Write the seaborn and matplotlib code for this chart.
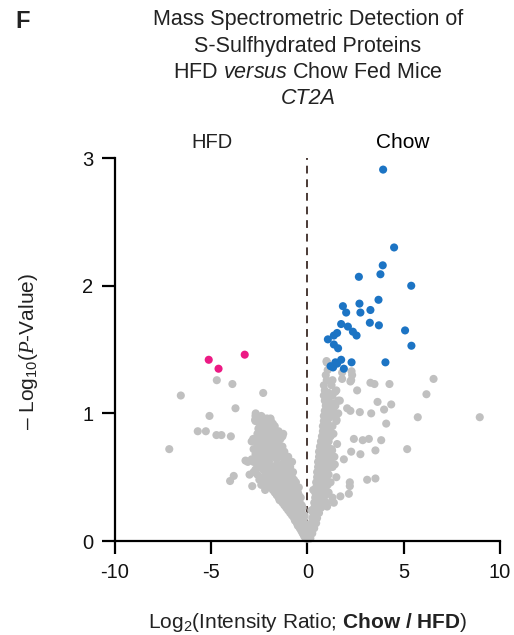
import matplotlib
matplotlib.use("Agg")
import matplotlib.pyplot as plt
import seaborn as sns
import pandas as pd

# ---------------- data ----------------
# significantly higher in Chow (blue)
up_x = [3.93, 4.50, 3.91, 3.79, 2.67, 5.39, 3.69, 1.84, 2.70, 2.01, 2.75, 3.27,
        1.75, 2.10, 3.24, 3.71, 2.36, 2.55, 1.54, 1.37, 1.06, 5.07, 5.40, 1.37,
        1.59, 4.05, 2.29, 1.75, 1.54, 1.33, 1.89, 1.20, 1.45]
up_y = [2.91, 2.30, 2.16, 2.09, 2.07, 2.00, 1.89, 1.84, 1.86, 1.79, 1.79, 1.81,
        1.70, 1.68, 1.71, 1.69, 1.64, 1.61, 1.63, 1.61, 1.58, 1.65, 1.53, 1.54,
        1.51, 1.40, 1.40, 1.42, 1.39, 1.36, 1.35, 1.37, 1.40]

# significantly higher in HFD (pink)
down_x = [-5.13, -4.62, -3.26]
down_y = [1.42, 1.35, 1.46]

# not significant (grey), scattered points
ns_sparse_x = [
    -4.71, -3.90, -6.58, -2.30, -3.74, -5.09, -5.70, -5.28, -4.73, -4.47, -3.98,
    -7.18, -2.82, -3.83, -4.02, -2.87, -3.01, -3.22, -2.69, -2.72, -2.35, -1.92,
    -1.75, -1.26,
    6.55, 6.18, 8.95, 5.73, 4.26, 3.27, 3.48, 3.64, 4.35, 3.98, 4.09, 3.31, 2.72,
    2.23, 2.06, 2.41, 2.87, 3.19, 3.83, 3.53, 5.18, 2.75, 2.27, 3.10, 3.53, 2.20,
    2.20, 1.71, 1.42, 1.28, 1.89, 2.32, 2.23, 2.58, 1.80, 1.02, 1.45, 1.37, 1.68,
    1.51, 1.54, 0.99, 1.80, 2.29, 2.27, 2.15, 1.37, 1.02,
]
ns_sparse_y = [
    1.26, 1.23, 1.14, 1.16, 1.04, 0.98, 0.86, 0.86, 0.83, 0.83, 0.82,
    0.72, 0.80, 0.51, 0.47, 0.43, 0.52, 0.63, 1.00, 0.95, 0.97, 0.96,
    0.86, 0.84,
    1.27, 1.15, 0.97, 0.97, 1.23, 1.24, 1.23, 1.09, 1.07, 1.03, 0.92, 1.00, 1.01,
    1.02, 1.04, 0.80, 0.79, 0.80, 0.79, 0.71, 0.72, 0.68, 0.70, 0.48, 0.49, 0.46,
    0.43, 0.35, 0.60, 0.71, 0.64, 1.30, 1.25, 1.18, 1.27, 1.40, 1.17, 1.08, 1.10,
    0.95, 0.76, 1.41, 1.32, 1.33, 1.26, 0.37, 0.30, 0.27,
]

# not significant (grey), dense left arm of the volcano
ns_left_x = [
    -0.10, 0.00, -0.18, -0.25, -0.10, -0.32, -0.40, -0.20, -0.50, -0.10,
    -0.55, -0.30, -0.15, -0.65, -0.35, -0.70, -0.45, -0.20, -0.80, -0.50, -0.15,
    -0.90, -0.60, -0.30, -1.00, -0.70, -0.40, -1.10, -0.80, -0.50, -0.25,
    -1.20, -0.90, -0.60, -0.30, -1.30, -1.00, -0.70, -0.40,
    -1.45, -1.15, -0.85, -0.55, -1.50, -1.20, -0.90, -0.60, -0.35,
    -1.60, -1.30, -1.00, -0.70, -0.45, -1.70, -1.40, -1.10, -0.80, -0.50,
    -2.20, -1.80, -1.50, -1.20, -0.90, -0.60, -1.90, -1.60, -1.30, -1.00, -0.70, -0.45,
    -2.40, -2.00, -1.70, -1.40, -1.10, -0.80, -2.10, -1.80, -1.50, -1.20, -0.90, -0.60,
    -2.50, -2.20, -1.90, -1.60, -1.30, -1.00, -0.70, -2.30, -2.00, -1.70, -1.40, -1.10, -0.80,
    -2.60, -2.10, -1.80, -1.50, -1.20, -0.90, -2.80, -2.20, -1.90, -1.60, -1.30, -1.00, -0.75,
    -2.70, -2.30, -2.00, -1.40, -1.05, -2.50, -2.10, -1.80, -1.20, -0.90,
    -2.60, -2.20, -1.60, -1.30, -0.95, -3.10, -2.80, -2.40, -2.00, -1.10, -0.80,
    -2.90, -2.45, -2.10, -1.60, -1.20, -2.60, -2.30, -1.80, -1.40, -1.00,
    -2.70, -2.40, -2.00, -1.70, -1.30, -2.60, -2.20, -1.90, -1.60, -1.20,
    -2.80, -2.30, -1.80, -1.45, -2.40, -2.00, -1.70, -1.30,
    -2.60, -2.20, -1.90, -1.60, -2.90, -2.50, -2.10, -1.80, -1.50,
    -2.70, -2.40, -1.70, -1.40, -2.30, -2.00, -1.60, -1.30,
    -2.60, -2.40, -2.00, -1.65, -2.20, -1.80, -1.50,
    -2.55, -2.10, -1.90, -2.40, -2.00, -1.70,
    -2.50, -2.10, -1.80, -2.70, -2.30, -1.90,
    -2.55, -2.10, -2.70, -2.40,
]
ns_left_y = [
    0.02, 0.02, 0.04, 0.06, 0.06, 0.08, 0.10, 0.10, 0.12, 0.12,
    0.14, 0.14, 0.14, 0.16, 0.16, 0.18, 0.18, 0.18, 0.20, 0.20, 0.20,
    0.22, 0.22, 0.22, 0.24, 0.24, 0.24, 0.26, 0.26, 0.26, 0.26,
    0.28, 0.28, 0.28, 0.28, 0.30, 0.30, 0.30, 0.30,
    0.32, 0.32, 0.32, 0.32, 0.34, 0.34, 0.34, 0.34, 0.34,
    0.36, 0.36, 0.36, 0.36, 0.36, 0.38, 0.38, 0.38, 0.38, 0.38,
    0.40, 0.40, 0.40, 0.40, 0.40, 0.40, 0.42, 0.42, 0.42, 0.42, 0.42, 0.42,
    0.44, 0.44, 0.44, 0.44, 0.44, 0.44, 0.46, 0.46, 0.46, 0.46, 0.46, 0.46,
    0.48, 0.48, 0.48, 0.48, 0.48, 0.48, 0.48, 0.50, 0.50, 0.50, 0.50, 0.50, 0.50,
    0.52, 0.52, 0.52, 0.52, 0.52, 0.52, 0.54, 0.54, 0.54, 0.54, 0.54, 0.54, 0.54,
    0.56, 0.56, 0.56, 0.56, 0.56, 0.58, 0.58, 0.58, 0.58, 0.58,
    0.60, 0.60, 0.60, 0.60, 0.60, 0.62, 0.62, 0.62, 0.62, 0.62, 0.62,
    0.64, 0.64, 0.64, 0.64, 0.64, 0.66, 0.66, 0.66, 0.66, 0.66,
    0.68, 0.68, 0.68, 0.68, 0.68, 0.70, 0.70, 0.70, 0.70, 0.70,
    0.72, 0.72, 0.72, 0.72, 0.74, 0.74, 0.74, 0.74,
    0.76, 0.76, 0.76, 0.76, 0.78, 0.78, 0.78, 0.78, 0.78,
    0.80, 0.80, 0.80, 0.80, 0.82, 0.82, 0.82, 0.82,
    0.84, 0.84, 0.84, 0.84, 0.86, 0.86, 0.86,
    0.88, 0.88, 0.88, 0.90, 0.90, 0.90,
    0.92, 0.92, 0.92, 0.94, 0.94, 0.94,
    0.96, 0.96, 0.98, 0.98,
]

# not significant (grey), dense right arm of the volcano
ns_right_x = [
    0.05, 0.15, 0.10, 0.10, 0.25, 0.18, 0.15, 0.35, 0.25, 0.20, 0.45, 0.35,
    0.25, 0.50, 0.40, 0.30, 0.60, 0.20, 0.50, 0.35, 0.70, 0.50, 0.85,
    0.35, 0.65, 1.00, 0.55, 0.85, 0.40, 0.75, 1.30, 0.60, 0.95,
    0.40, 0.80, 1.10, 0.30, 0.60, 0.95, 0.45, 0.85, 0.65, 1.05,
    0.45, 0.80, 1.20, 0.65, 1.00, 0.50, 0.90, 1.50, 0.70, 1.10,
    0.50, 0.85, 0.70, 1.05, 0.55, 0.90, 1.30, 0.75, 1.15, 0.55, 0.95,
    0.80, 1.20, 0.60, 1.00, 1.40, 0.80, 1.20, 0.60, 1.00, 0.85, 1.25,
    0.65, 1.05, 0.90, 0.70, 1.10, 0.95, 0.75, 1.20, 1.00, 1.35,
    0.80, 1.10, 1.00, 0.80, 1.30, 1.05, 0.85, 1.50, 1.10, 0.85, 1.25,
    1.10, 1.60, 0.90, 1.35, 1.20, 0.95, 1.45, 1.20, 0.90, 1.60,
    1.10, 0.85, 1.30, 1.10, 0.90, 1.50, 0.85, 1.25, 1.00, 1.30,
    0.95, 1.05, 1.00,
]
ns_right_y = [
    0.02, 0.02, 0.04, 0.06, 0.06, 0.08, 0.10, 0.10, 0.12, 0.14, 0.14, 0.16,
    0.18, 0.18, 0.20, 0.22, 0.22, 0.24, 0.24, 0.26, 0.26, 0.28, 0.28,
    0.30, 0.30, 0.30, 0.32, 0.32, 0.34, 0.34, 0.34, 0.36, 0.36,
    0.38, 0.38, 0.38, 0.40, 0.40, 0.40, 0.42, 0.42, 0.44, 0.44,
    0.46, 0.46, 0.46, 0.48, 0.48, 0.50, 0.50, 0.50, 0.52, 0.52,
    0.54, 0.54, 0.56, 0.56, 0.58, 0.58, 0.58, 0.60, 0.60, 0.62, 0.62,
    0.64, 0.64, 0.66, 0.66, 0.66, 0.68, 0.68, 0.70, 0.70, 0.72, 0.72,
    0.74, 0.74, 0.76, 0.78, 0.78, 0.80, 0.82, 0.82, 0.84, 0.84,
    0.86, 0.86, 0.88, 0.90, 0.90, 0.92, 0.94, 0.94, 0.96, 0.98, 0.98,
    1.00, 1.00, 1.02, 1.02, 1.04, 1.06, 1.06, 1.08, 1.10, 1.10,
    1.12, 1.14, 1.14, 1.16, 1.18, 1.18, 1.22, 1.22, 1.26, 1.26,
    1.30, 1.34, 1.40,
]

x_ticks = [-10, -5, 0, 5, 10]
y_ticks = [0, 1, 2, 3]

# ---------------- build frame ----------------
df = pd.concat([
    pd.DataFrame({"x": ns_sparse_x, "y": ns_sparse_y, "grp": "ns"}),
    pd.DataFrame({"x": ns_left_x, "y": ns_left_y, "grp": "ns"}),
    pd.DataFrame({"x": ns_right_x, "y": ns_right_y, "grp": "ns"}),
    pd.DataFrame({"x": down_x, "y": down_y, "grp": "hfd"}),
    pd.DataFrame({"x": up_x, "y": up_y, "grp": "chow"}),
], ignore_index=True)

sns.set_theme(style="ticks")
plt.rcParams["font.family"] = ["Liberation Sans", "DejaVu Sans"]
plt.rcParams["axes.unicode_minus"] = False
plt.rcParams["mathtext.fontset"] = "custom"
plt.rcParams["mathtext.rm"] = "Liberation Sans"
plt.rcParams["mathtext.it"] = "Liberation Sans:italic"
plt.rcParams["mathtext.bf"] = "Liberation Sans:bold"
plt.rcParams["mathtext.sf"] = "Liberation Serif:italic"

fig = plt.figure(figsize=(5.14, 6.35), dpi=100)
ax = fig.add_axes([0.2237, 0.148, 0.749, 0.603])

palette = {"ns": "#c0c0c0", "hfd": "#ec1a84", "chow": "#1c74c4"}
sns.scatterplot(data=df, x="x", y="y", hue="grp", palette=palette,
                s=34, linewidth=0, legend=False, ax=ax, clip_on=False)

ax.axvline(0, color="#4a3a36", lw=1.4, ls=(0, (4, 3)), zorder=0.5)

ax.set_xlim(-10, 10)
ax.set_ylim(0, 3)
ax.set_xticks(x_ticks)
ax.set_yticks(y_ticks)
ax.tick_params(axis="both", length=9.5, width=1.6, labelsize=14.5, color="black",
               labelcolor="#111111", pad=6)
for side in ["top", "right"]:
    ax.spines[side].set_visible(False)
for side in ["left", "bottom"]:
    ax.spines[side].set_linewidth(1.6)
    ax.spines[side].set_color("black")
ax.set_xlabel("")
ax.set_ylabel("")

# axis labels
fig.text(0.598, 1 - 622 / 635, r"Log$_2$(Intensity Ratio; $\mathbf{Chow\ /\ HFD}$)",
         ha="center", va="center", fontsize=15, color="#222222")
fig.text(29 / 514, 1 - 352 / 635, r"– Log$_{10}$($\mathsf{P}$-Value)",
         ha="center", va="center", rotation=90, fontsize=15, color="#222222")

# group labels
fig.text(212 / 514, 1 - 143 / 635, "HFD", ha="center", va="center",
         fontsize=14.5, color="#222222")
fig.text(403 / 514, 1 - 143 / 635, "Chow", ha="center", va="center",
         fontsize=15, color="black")

# title
cx = 308 / 514
fs_t = 15.5
fig.text(cx, 1 - 20 / 635, "Mass Spectrometric Detection of", ha="center",
         va="center", fontsize=fs_t, color="#222222")
fig.text(cx, 1 - 46.5 / 635, "S-Sulfhydrated Proteins", ha="center",
         va="center", fontsize=fs_t, color="#222222")
fig.text(cx, 1 - 72.5 / 635, r"HFD $\it{versus}$ Chow Fed Mice", ha="center",
         va="center", fontsize=fs_t, color="#222222")
fig.text(cx, 1 - 98 / 635, "CT2A", ha="center", va="center", fontsize=fs_t,
         style="italic", color="#222222")
fig.text(23 / 514, 1 - 21 / 635, "F", ha="center", va="center", fontsize=17,
         weight="bold", color="#222222")

fig.savefig("out.png", dpi=100)
